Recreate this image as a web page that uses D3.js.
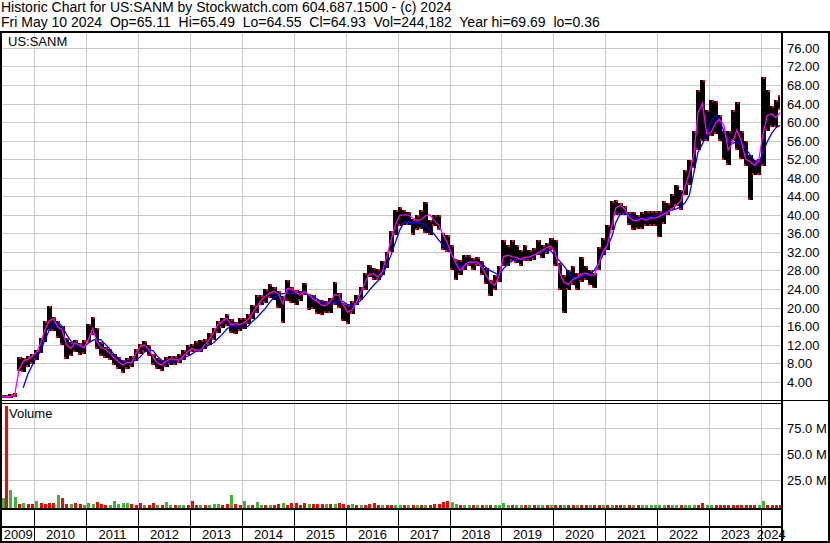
<!DOCTYPE html>
<meta charset="utf-8">
<script src="https://d3js.org/d3.v7.min.js"></script>
<style>
  body { margin: 0; background: #fff; }
  svg text { font-family: "Liberation Sans", Arial, sans-serif; font-size: 13px; fill: #000; white-space: pre; }
  svg text.head { font-size: 14px; }
</style>
<div id="chart"></div>
<script>
// monthly data, first entry = May 2009, last = May 2024 (to May 10)
var hi = [1.2,1.2,1.3,1.5,9.3,9.0,9.5,10.0,10.8,13.5,
  17.0,20.3,18.0,17.0,16.0,13.5,12.5,13.0,12.3,13.0,
  16.5,18.0,15.5,12.5,11.5,11.0,10.0,9.3,8.6,9.0,
  9.5,11.0,12.2,12.8,12.0,10.0,9.0,8.6,9.3,9.5,
  9.6,10.0,10.8,11.9,12.2,12.8,13.0,13.2,14.4,15.5,
  17.0,17.7,18.5,17.5,16.8,17.7,17.7,18.5,20.5,22.6,
  22.8,24.0,25.0,24.5,23.5,22.5,26.0,24.5,23.7,23.5,
  25.2,23.0,22.6,21.6,21.6,21.5,22.0,25.4,23.2,21.0,
  20.5,21.5,22.8,24.5,27.5,29.1,28.5,28.2,30.0,32.0,
  36.5,41.0,41.6,41.0,40.5,39.0,40.0,41.0,42.7,38.8,
  40.0,40.0,36.0,35.6,33.5,30.5,30.2,31.3,31.3,30.6,
  31.0,30.0,28.5,26.0,27.0,29.0,34.5,33.4,34.5,33.5,
  32.4,33.4,32.4,32.8,34.5,33.4,34.0,35.0,34.5,29.5,
  27.0,28.0,29.0,27.5,30.9,29.0,28.0,27.5,33.0,35.0,
  37.8,43.0,43.1,42.5,42.0,40.5,40.5,40.0,40.5,40.8,
  40.8,40.8,40.8,43.0,42.5,44.5,46.4,45.3,49.6,51.8,
  58.0,66.9,69.0,62.6,64.7,64.5,61.5,58.0,58.0,62.6,
  64.3,58.0,56.0,52.9,51.8,52.0,69.7,67.0,63.5,64.7,
  65.8];
var lo = [0.45,0.4,0.5,0.6,6.3,6.0,7.2,7.8,8.6,10.2,
  12.5,15.0,15.0,13.5,12.0,8.8,9.5,10.5,9.8,10.0,
  12.5,14.0,11.0,9.5,9.0,8.6,7.5,6.8,5.9,6.8,
  7.2,8.5,10.0,10.5,9.5,7.5,6.8,6.4,7.2,7.5,
  7.5,8.0,8.6,9.7,10.3,10.4,10.4,11.0,12.0,13.0,
  14.5,15.5,16.0,14.5,14.2,15.0,15.3,16.5,17.5,18.8,
  20.5,21.0,22.0,21.6,20.0,16.6,21.5,21.0,20.5,21.5,
  22.6,19.4,19.6,18.5,18.3,18.8,18.8,20.5,19.8,17.0,
  16.4,18.5,20.5,21.6,23.7,26.5,26.0,25.9,27.0,28.5,
  32.0,35.6,37.5,37.8,37.8,35.6,36.7,37.0,36.0,35.6,
  37.5,36.7,32.4,32.0,28.0,26.0,27.0,28.0,29.0,28.0,
  29.0,27.0,25.0,22.4,23.7,25.5,29.0,29.0,30.0,29.5,
  29.0,30.0,30.0,30.3,31.3,30.6,31.5,32.4,29.0,23.7,
  18.8,23.7,24.8,23.7,25.5,25.9,24.8,24.2,28.0,31.3,
  32.4,36.7,40.0,40.0,40.0,37.8,36.7,37.0,37.0,37.5,
  37.5,37.5,35.2,38.0,40.0,41.0,42.0,41.0,44.2,46.4,
  50.0,54.0,56.0,56.0,57.0,57.5,56.0,51.8,50.7,56.0,
  54.0,52.0,50.5,43.1,48.5,48.5,50.5,58.0,59.0,59.0,
  62.6];
// short moving average (magenta)
var ma1 = [0.7,0.7,0.8,1.0,6.5,8.4,8.8,9.4,10.3,12.3,
  15.1,17.1,17.6,15.8,15.2,12.0,11.2,12.4,11.9,11.3,
  13.0,15.5,12.8,11.3,11.0,10.2,9.2,8.3,7.6,8.2,
  8.0,10.0,11.5,11.9,11.0,9.4,8.0,7.6,8.4,8.9,
  8.8,8.6,9.6,10.5,11.2,10.8,10.8,12.0,13.0,14.5,
  16.3,16.9,17.7,16.3,16.5,16.3,16.7,17.5,18.8,20.2,
  21.5,22.4,23.1,23.5,23.0,20.8,24.1,24.0,23.3,22.7,
  23.5,22.8,21.9,21.3,20.5,20.4,21.3,22.8,22.6,20.5,
  19.0,19.5,21.0,23.2,25.3,27.2,27.3,26.6,27.8,31.0,
  34.5,37.8,39.9,40.0,40.0,39.3,38.8,39.0,39.8,40.0,
  38.8,37.8,35.8,34.0,31.5,29.5,28.0,29.0,29.8,29.8,
  29.8,28.8,27.0,25.5,24.8,26.8,31.0,31.3,31.0,30.8,
  30.4,30.8,30.9,31.3,31.8,32.3,33.0,33.2,31.8,27.5,
  25.5,25.0,26.0,26.5,27.2,27.4,27.0,27.0,29.5,32.0,
  33.5,37.5,41.5,42.0,41.3,39.5,38.8,38.8,39.2,38.8,
  39.4,39.3,39.6,40.2,40.6,41.3,42.0,43.0,46.0,49.0,
  52.9,62.0,64.0,57.5,57.8,59.8,60.6,59.3,54.0,55.5,
  58.3,56.0,52.0,51.5,50.7,51.5,57.5,61.5,61.8,61.0,
  62.1];
// long moving average (blue)
var ma2 = [null,null,null,null,null,2.7,5.5,7.4,9.2,10.6,
  12.9,15.0,16.4,16.8,16.0,14.2,12.8,12.2,11.6,11.5,
  12.3,12.9,13.2,13.0,12.1,11.1,9.9,9.1,8.4,8.2,
  8.3,8.6,9.3,10.4,10.8,10.7,9.5,8.6,8.2,8.2,
  8.6,8.9,9.2,9.5,10.0,10.6,11.0,11.4,11.9,12.4,
  13.3,14.2,15.3,16.0,16.2,15.6,15.6,16.0,17.0,17.8,
  18.8,19.8,21.1,22.2,22.7,23.0,23.1,23.1,23.0,23.1,
  23.2,22.8,22.3,21.8,21.3,21.0,20.9,21.1,21.6,21.3,
  20.6,20.5,20.7,21.5,22.5,23.7,24.8,25.7,27.0,29.0,
  31.3,34.0,36.7,38.4,38.5,38.4,38.3,38.2,37.8,36.8,
  35.8,34.6,33.5,32.8,31.5,29.8,28.6,29.2,29.8,29.8,
  29.8,29.5,28.6,27.9,27.5,27.0,28.4,29.4,30.0,30.4,
  30.5,30.6,31.0,31.3,31.7,32.3,32.4,32.2,31.0,30.0,
  29.0,27.7,26.5,26.3,26.7,27.1,27.4,28.0,29.5,31.3,
  33.2,35.2,38.3,40.2,40.5,40.0,39.6,39.3,39.3,39.4,
  39.6,39.9,40.0,40.4,40.9,41.0,41.3,41.7,42.6,44.2,
  49.0,53.5,55.3,57.5,60.2,61.4,60.6,58.0,56.2,55.4,
  55.8,55.6,54.3,53.0,51.7,50.8,53.6,55.8,57.5,58.8,
  59.3];
// volume in millions, and direction (1 = up, 0 = down)
var vol = [8,97,15,9,2,3,2,2,5,3,
  2,3,3,11,8,2,2,3,2,0.6,
  3,2,4,2,0.6,0.6,5,2,3,3,
  2,0.6,3,0.6,0.6,3,0.6,0.6,4,0.6,
  0.6,0.6,0.6,0.6,5,0.6,0.6,0.6,0.6,2,
  2,0.6,2,11,2,0.6,5,0.6,0.6,4,
  0.6,0.6,0.6,0.6,2,3,0.6,3,3,0.6,
  3,2,2,2,2,2,2,2,3,2,
  0.6,2,0.6,0.6,0.6,2,3,0.6,0.6,0.6,
  0.6,0.6,0.6,0.6,0.6,0.6,0.6,0.6,0.6,0.6,
  2,2,4,5,4,2,0.6,0.6,0.6,0.6,
  0.6,0.6,0.6,0.6,0.6,0.6,3,0.6,0.6,0.6,
  0.6,0.6,0.6,0.6,0.6,0.6,0.6,0.6,0.6,0.6,
  0.6,0.6,0.6,0.6,0.6,0.6,0.6,0.6,0.6,0.6,
  0.6,0.6,0.6,0.6,0.6,0.6,0.6,0.6,0.6,0.6,
  0.6,0.6,0.6,0.6,0.6,0.6,0.6,0.6,0.6,0.6,
  0.6,0.6,3,0.6,0.6,0.6,0.6,0.6,0.6,0.6,
  0.6,0.6,0.6,0.6,0.6,0.6,5,0.6,0.6,0.6,
  0.6];
var volUp = [1,0,1,1,0,1,0,0,1,0,
  0,0,0,1,0,0,1,0,0,1,
  1,1,0,0,0,1,1,1,1,1,
  0,0,0,1,0,0,1,0,1,1,
  0,1,1,0,0,0,1,0,1,1,
  1,0,0,1,0,0,1,1,0,1,
  1,0,1,0,0,1,0,0,0,0,
  0,1,0,0,0,1,0,1,0,0,
  0,1,0,1,0,0,0,0,1,0,
  0,1,1,0,1,0,1,0,1,0,
  0,0,0,0,1,1,0,1,1,0,
  1,0,1,0,1,1,1,1,0,1,
  1,0,1,0,1,1,0,1,0,0,
  1,0,0,1,0,0,1,0,0,1,
  0,1,0,0,1,0,1,0,1,1,
  1,1,1,1,0,1,1,0,1,1,
  1,0,0,1,1,0,0,0,0,0,
  0,0,0,0,0,1,1,0,0,0,
  0];
var priceTicks = [4,8,12,16,20,24,28,32,36,40,44,48,52,56,60,64,68,72,76];
var volTicks = [25, 50, 75];
var years = [2009,2010,2011,2012,2013,2014,2015,2016,2017,2018,2019,2020,2021,2022,2023,2024];
var title1 = "Historic Chart for US:SANM by Stockwatch.com 604.687.1500 - (c) 2024";
var title2 = "Fri May 10 2024  Op=65.11  Hi=65.49  Lo=64.55  Cl=64.93  Vol=244,182  Year hi=69.69  lo=0.36";

var W = 830, H = 543;
var plotL = 2, plotR = 781, priceTop = 33, priceBot = 400, volTop = 404, volBot = 508;

var svg = d3.select("#chart").append("svg")
  .attr("width", W).attr("height", H);

var x = d3.scaleTime()
  .domain([new Date(2010, 0, 1), new Date(2024, 0, 1)])
  .range([34.3, 761]);
var y = d3.scaleLinear().domain([0, 80]).range([400.2, 29.4]);
var yv = d3.scaleLinear().domain([0, 100]).range([506, 402.6]);

var months = hi.map(function(d, i) { return new Date(2009, 4 + i, 1); });
var endDate = new Date(2024, 4, 11);
function mx0(i) { return x(months[i]); }
function mx1(i) { return i == months.length - 1 ? x(endDate) : x(months[i + 1]); }
function mmid(i) { return x(new Date(2009, 4 + i, 15)); }

// header
svg.append("text").attr("class", "head").attr("x", 1).attr("y", 12).text(title1);
svg.append("text").attr("class", "head").attr("x", 1).attr("y", 27).text(title2);

// grid
var grid = svg.append("g").attr("stroke", "#c8c8c8").attr("stroke-width", 1);
grid.selectAll(".hp").data(priceTicks).enter().append("line")
  .attr("x1", plotL).attr("x2", plotR)
  .attr("y1", function(d) { return Math.round(y(d)) + 0.5; })
  .attr("y2", function(d) { return Math.round(y(d)) + 0.5; });
grid.selectAll(".hv").data(volTicks).enter().append("line")
  .attr("x1", plotL).attr("x2", plotR)
  .attr("y1", function(d) { return Math.round(yv(d)) + 0.5; })
  .attr("y2", function(d) { return Math.round(yv(d)) + 0.5; });
var yearLines = years.slice(1).map(function(yr) { return Math.round(x(new Date(yr, 0, 1))) + 0.5; });
grid.selectAll(".vg").data(yearLines).enter().append("line")
  .attr("x1", function(d) { return d; }).attr("x2", function(d) { return d; })
  .attr("y1", priceTop).attr("y2", volBot);

// price panel
svg.append("clipPath").attr("id", "pclip").append("rect")
  .attr("x", plotL).attr("y", priceTop).attr("width", plotR - plotL).attr("height", priceBot - priceTop);
var pg = svg.append("g").attr("clip-path", "url(#pclip)");

pg.append("g").attr("shape-rendering", "crispEdges")
  .selectAll("rect").data(hi).enter().append("rect")
  .attr("x", function(d, i) { return mx0(i); })
  .attr("width", function(d, i) { return mx1(i) - mx0(i) + 0.3; })
  .attr("y", function(d) { return y(d); })
  .attr("height", function(d, i) { return Math.max(1, y(lo[i]) - y(d)); })
  .attr("fill", "#000");

var ticks = pg.append("g").attr("fill", "#ff0000").attr("shape-rendering", "crispEdges");
ticks.selectAll(".tickh").data(hi).enter().append("rect")
  .attr("x", function(d, i) { return mx1(i) - 2; })
  .attr("width", 2).attr("height", 2)
  .attr("y", function(d) { return y(d); });
ticks.selectAll(".tickl").data(lo).enter().append("rect")
  .attr("x", function(d, i) { return mx0(i); })
  .attr("width", 2).attr("height", 2)
  .attr("y", function(d) { return y(d) - 2; });

var line2 = d3.line()
  .defined(function(d) { return d != null; })
  .x(function(d, i) { return mmid(i); })
  .y(function(d) { return y(d); });
pg.append("path").datum(ma2).attr("d", line2)
  .attr("fill", "none").attr("stroke", "#0000ff").attr("stroke-width", 1.3);
pg.append("path").datum(ma1).attr("d", line2)
  .attr("fill", "none").attr("stroke", "#ff00ff").attr("stroke-width", 1.3);

// volume bars
svg.append("g").attr("shape-rendering", "crispEdges")
  .selectAll("rect").data(vol).enter().append("rect")
  .attr("x", function(d, i) { return Math.max(plotL, mx0(i) + 1); })
  .attr("width", 3)
  .attr("y", function(d) { return yv(d); })
  .attr("height", function(d) { return volBot - yv(d); })
  .attr("fill", function(d, i) { return volUp[i] ? "#3cb43c" : "#ff0000"; });

// labels
svg.append("text").attr("x", 8).attr("y", 46).text("US:SANM");
svg.append("text").attr("x", 9).attr("y", 418).text("Volume");

svg.selectAll(".pl").data(priceTicks).enter().append("text")
  .attr("x", 787).attr("y", function(d) { return Math.round(y(d)) + 5; })
  .text(function(d) { return d.toFixed(2); });
svg.selectAll(".vl").data(volTicks).enter().append("text")
  .attr("x", 787).attr("y", function(d) { return Math.round(yv(d)) + 5; })
  .text(function(d) { return d.toFixed(1) + " M"; });

// frame lines
var frame = svg.append("g").attr("fill", "#000");
frame.append("rect").attr("x", 0).attr("y", 31).attr("width", W).attr("height", 2);
frame.append("rect").attr("x", 0).attr("y", 31).attr("width", 2).attr("height", H - 31);
frame.append("rect").attr("x", plotR).attr("y", 31).attr("width", 2).attr("height", H - 31);
frame.append("rect").attr("x", W - 2).attr("y", 31).attr("width", 2).attr("height", H - 31);
frame.append("rect").attr("x", 0).attr("y", H - 2).attr("width", W).attr("height", 2);
frame.append("rect").attr("x", 0).attr("y", 400).attr("width", W).attr("height", 1);
frame.append("rect").attr("x", 0).attr("y", 403).attr("width", plotR).attr("height", 1);
frame.append("rect").attr("x", 0).attr("y", volBot).attr("width", plotR).attr("height", 2);
frame.append("rect").attr("x", 0).attr("y", 526).attr("width", plotR).attr("height", 2);
frame.selectAll(".yl").data(yearLines).enter().append("rect")
  .attr("x", function(d) { return d - 0.5; }).attr("y", volBot)
  .attr("width", 1).attr("height", H - volBot);

// year labels centred between boundaries
var bounds = [plotL].concat(yearLines).concat([plotR]);
svg.selectAll(".yr").data(years).enter().append("text")
  .attr("x", function(d, i) { return (bounds[i] + bounds[i + 1]) / 2; })
  .attr("y", 539)
  .attr("text-anchor", "middle")
  .text(function(d) { return d; });
</script>
